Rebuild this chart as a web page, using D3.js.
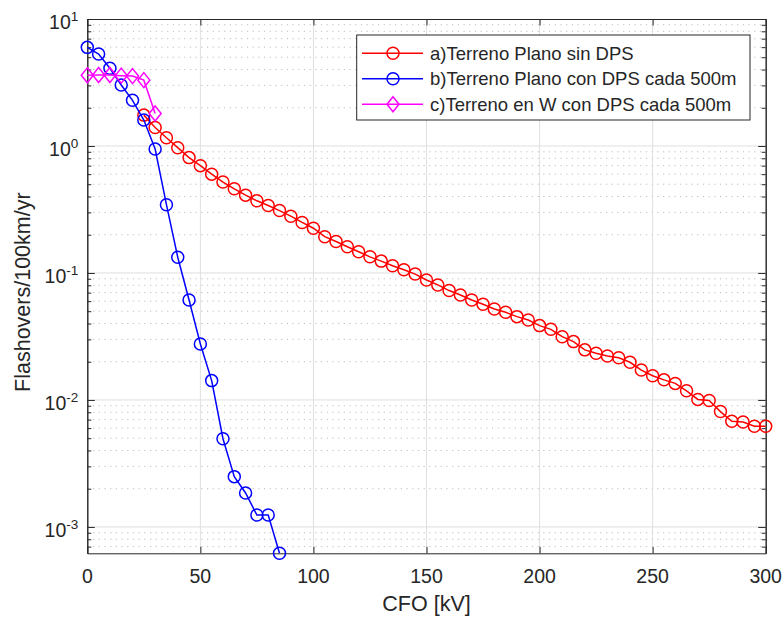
<!DOCTYPE html>
<html>
<head>
<meta charset="utf-8">
<script src="https://cdn.jsdelivr.net/npm/d3@7"></script>
<style>
  body { margin: 0; background: #fff; }
  text { font-family: "Liberation Sans", Arial, Helvetica, sans-serif; fill: #262626; }
</style>
</head>
<body>
<div id="chart"></div>
<script>
// data
const cfoA = [25,30,35,40,45,50,55,60,65,70,75,80,85,90,95,100,105,110,115,120,125,130,135,140,145,150,
  155,160,165,170,175,180,185,190,195,200,205,210,215,220,225,230,235,240,245,250,255,260,265,270,275,280,285,290,295,300];
const flashA = [1.75,1.40,1.16,0.97,0.81,0.70,0.60,0.52,0.46,0.41,0.37,0.34,0.31,0.28,0.25,0.225,0.193,0.177,0.161,0.147,
  0.134,0.124,0.114,0.106,0.098,0.088,0.0805,0.0727,0.0671,0.0613,0.0567,0.0521,0.049,0.0453,0.0426,0.0385,0.036,0.0315,
  0.0288,0.0248,0.0233,0.0222,0.0215,0.0198,0.0172,0.0155,0.0144,0.0135,0.0118,0.0101,0.0099,0.0081,0.0068,0.0067,0.0062,0.0062];

const cfoB = [0,5,10,15,20,25,30,35,40,45,50,55,60,65,70,75,80,85];
const flashB = [5.98,5.30,4.09,3.02,2.29,1.60,0.947,0.345,0.133,0.0612,0.0276,0.0142,0.00495,0.00249,0.00185,0.00124,0.00124,0.00062];

const cfoC = [0,5,10,15,20,25,30];
const flashC = [3.6,3.62,3.62,3.58,3.55,3.3,1.8];

const seriesNames = ["a)Terreno Plano sin DPS", "b)Terreno Plano con DPS cada 500m", "c)Terreno en W con DPS cada 500m"];
const xTicks = [0,50,100,150,200,250,300];
const yExponents = [-3,-2,-1,0,1];

// set the dimensions and margins of the graph
const W = 784, H = 617;
const margin = {top: 19, right: 18.3, bottom: 63.7, left: 87.3},
      width = W - margin.left - margin.right,
      height = H - margin.top - margin.bottom;

const svg = d3.select("#chart")
  .append("svg")
  .attr("width", W)
  .attr("height", H);

const g = svg.append("g")
  .attr("transform", `translate(${margin.left}, ${margin.top})`);

const x = d3.scaleLinear().domain([0, 300]).range([0, width]);
const y = d3.scaleLog().domain([0.00062, 10]).range([height, 0]);

const axisColor = "#262626";

// minor grid (dotted) on y
const minorVals = [];
for (let e = -4; e <= 0; e++) {
  for (let m = 2; m <= 9; m++) {
    const v = m * Math.pow(10, e);
    if (v > y.domain()[0] && v < y.domain()[1]) minorVals.push(v);
  }
}
g.append("g").selectAll("line")
  .data(minorVals)
  .join("line")
    .attr("x1", 0).attr("x2", width)
    .attr("y1", d => y(d)).attr("y2", d => y(d))
    .attr("stroke", "#bdbdbd")
    .attr("stroke-width", 1)
    .attr("stroke-dasharray", "1.2,4.5");

// major grid
g.append("g").selectAll("line")
  .data(yExponents.map(e => Math.pow(10, e)).filter(v => v < 10))
  .join("line")
    .attr("x1", 0).attr("x2", width)
    .attr("y1", d => y(d)).attr("y2", d => y(d))
    .attr("stroke", "#dfdfdf").attr("stroke-width", 1);

g.append("g").selectAll("line")
  .data(xTicks.slice(1, -1))
  .join("line")
    .attr("x1", d => x(d)).attr("x2", d => x(d))
    .attr("y1", 0).attr("y2", height)
    .attr("stroke", "#dfdfdf").attr("stroke-width", 1);

// axes box with ticks (ticks inside, like matlab)
const xb = g.append("g").attr("transform", `translate(0, ${height})`)
  .call(d3.axisBottom(x).tickValues(xTicks).tickSizeInner(-6.5).tickSizeOuter(0).tickFormat(""));
const xt = g.append("g")
  .call(d3.axisTop(x).tickValues(xTicks).tickSizeInner(-6.5).tickSizeOuter(0).tickFormat(""));

const yMajor = yExponents.map(e => Math.pow(10, e));
const yl = g.append("g")
  .call(d3.axisLeft(y).tickValues(yMajor).tickSizeInner(-7.5).tickSizeOuter(0).tickFormat(""));
const yr = g.append("g").attr("transform", `translate(${width}, 0)`)
  .call(d3.axisRight(y).tickValues(yMajor).tickSizeInner(-7.5).tickSizeOuter(0).tickFormat(""));
const ylm = g.append("g")
  .call(d3.axisLeft(y).tickValues(minorVals).tickSizeInner(-4).tickSizeOuter(0).tickFormat(""));
const yrm = g.append("g").attr("transform", `translate(${width}, 0)`)
  .call(d3.axisRight(y).tickValues(minorVals).tickSizeInner(-4).tickSizeOuter(0).tickFormat(""));

[xb, xt, yl, yr, ylm, yrm].forEach(a => {
  a.selectAll("path,line").attr("stroke", axisColor).attr("stroke-width", 1);
});

// tick labels
g.append("g").selectAll("text")
  .data(xTicks)
  .join("text")
    .attr("x", d => x(d))
    .attr("y", height + 30)
    .attr("text-anchor", "middle")
    .style("font-size", "19.5px")
    .text(d => d);

const yLab = g.append("g").selectAll("text")
  .data(yExponents)
  .join("text")
    .attr("x", -9)
    .attr("y", d => y(Math.pow(10, d)) + 10)
    .attr("text-anchor", "end")
    .style("font-size", "19.5px");
yLab.append("tspan").text("10");
yLab.append("tspan")
  .attr("dy", -8)
  .style("font-size", "13.5px")
  .text(d => d < 0 ? "-" + Math.abs(d) : d);

// axis labels
svg.append("text")
  .attr("x", margin.left + width / 2)
  .attr("y", 611)
  .attr("text-anchor", "middle")
  .style("font-size", "21.5px")
  .text("CFO [kV]");

svg.append("text")
  .attr("transform", `translate(30, ${margin.top + height / 2 + 6}) rotate(-90)`)
  .attr("text-anchor", "middle")
  .style("font-size", "21.5px")
  .text("Flashovers/100km/yr");

// series
const colors = ["#ff0000", "#0000ff", "#ff00ff"];
const series = [
  {xs: cfoA, ys: flashA, color: colors[0], marker: "circle"},
  {xs: cfoB, ys: flashB, color: colors[1], marker: "circle"},
  {xs: cfoC, ys: flashC, color: colors[2], marker: "diamond"}
];

const line = d3.line().x(d => x(d[0])).y(d => y(d[1]));
const diamondPath = "M0,-7.5L6,0L0,7.5L-6,0Z";

function drawMarker(sel, type, color) {
  if (type === "circle") {
    sel.append("circle").attr("r", 6);
  } else {
    sel.append("path").attr("d", diamondPath);
  }
  sel.selectAll("circle,path")
    .attr("fill", "none")
    .attr("stroke", color)
    .attr("stroke-width", 1.5);
}

series.forEach(s => {
  const pts = s.xs.map((v, i) => [v, s.ys[i]]);
  const sg = g.append("g");
  sg.append("path")
    .datum(pts)
    .attr("d", line)
    .attr("fill", "none")
    .attr("stroke", s.color)
    .attr("stroke-width", 1.5);
  sg.selectAll("g.mk")
    .data(pts)
    .join("g")
      .attr("class", "mk")
      .attr("transform", d => `translate(${x(d[0])}, ${y(d[1])})`)
      .each(function() { drawMarker(d3.select(this), s.marker, s.color); });
});

// legend
const leg = svg.append("g");
leg.append("rect")
  .attr("x", 356.7).attr("y", 35)
  .attr("width", 393.3).attr("height", 85)
  .attr("fill", "#fff")
  .attr("stroke", axisColor)
  .attr("stroke-width", 1);

const legRows = leg.selectAll("g.row")
  .data(series)
  .join("g")
    .attr("class", "row")
    .attr("transform", (d, i) => `translate(0, ${53.3 + i * 25.5})`);

legRows.append("line")
  .attr("x1", 362).attr("x2", 423)
  .attr("y1", 0).attr("y2", 0)
  .attr("stroke", d => d.color)
  .attr("stroke-width", 1.5);

legRows.append("g")
  .attr("transform", "translate(393, 0)")
  .each(function(d) { drawMarker(d3.select(this), d.marker, d.color); });

legRows.append("text")
  .attr("x", 430)
  .attr("y", 6.5)
  .style("font-size", "18.5px")
  .text((d, i) => seriesNames[i]);
</script>
</body>
</html>
